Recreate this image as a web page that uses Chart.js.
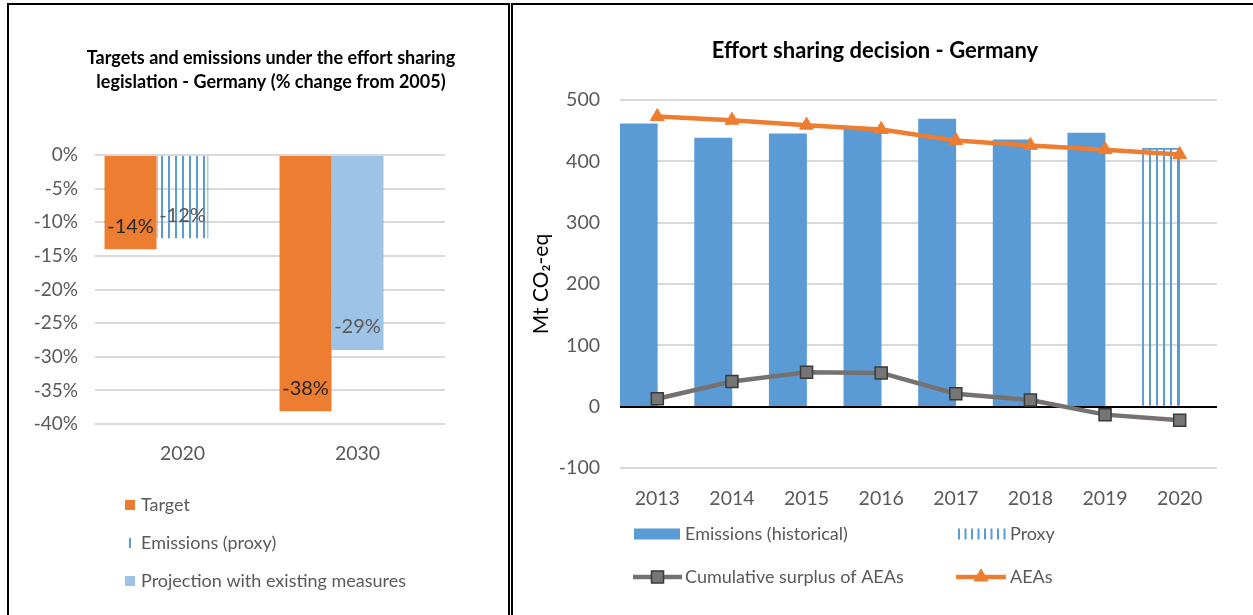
<!DOCTYPE html>
<html><head><meta charset="utf-8">
<script src="https://cdn.jsdelivr.net/npm/chart.js@4.4.1/dist/chart.umd.min.js"></script>
<style>
html,body{margin:0;padding:0;background:#fff;width:1253px;height:615px;overflow:hidden;}
.panel{position:absolute;border:2px solid #000;box-sizing:border-box;}
#p1{left:7px;top:3px;width:503px;height:700px;}
#p2{left:511px;top:3px;width:800px;height:700px;}
#c1{position:absolute;left:0;top:0;}
#c2{position:absolute;left:512px;top:0;}
</style></head>
<body>
<div class="panel" id="p1"></div><div class="panel" id="p2"></div>
<canvas id="c1" width="510" height="615"></canvas>
<canvas id="c2" width="741" height="615"></canvas>
<script>
// ---------- data: left chart ----------
const leftCategories = ['2020', '2030'];
const leftTarget = [-14, -38.1];
const leftEmissionsProxy = [-12.4, null];
const leftProjection = [null, -29];
const leftYTicks = [0, -5, -10, -15, -20, -25, -30, -35, -40];
const leftTitle = ['Targets and emissions under the effort sharing', 'legislation - Germany (% change from 2005)'];
const leftLabels = ['Target', 'Emissions (proxy)', 'Projection with existing measures'];

// ---------- data: right chart ----------
const years = ['2013', '2014', '2015', '2016', '2017', '2018', '2019', '2020'];
const emissionsHistorical = [461, 438, 445, 452, 469, 435, 446, null];
const emissionsProxy = [null, null, null, null, null, null, null, 421];
const aeas = [473, 467, 459, 452, 434, 426, 419, 411];
const cumulativeSurplus = [13, 41, 56, 55, 21, 11, -13, -22];
const rightYTicks = [500, 400, 300, 200, 100, 0, -100];
const rightTitle = 'Effort sharing decision - Germany';
const rightLabels = ['Emissions (historical)', 'Proxy', 'Cumulative surplus of AEAs', 'AEAs'];
const rightYTitle = 'Mt CO\u2082-eq';

const FONT = "Lato, 'Liberation Sans', sans-serif";
const ORANGE = '#ed7d31', BLUE = '#5b9bd5', LIGHTBLUE = '#9dc3e6', GREY = '#767171';
const TICK = '#595959';

function stripePattern() {
  const c = document.createElement('canvas'); c.width = 7; c.height = 8;
  const g = c.getContext('2d');
  g.fillStyle = BLUE; g.fillRect(0, 0, 2, 8);
  return g.createPattern(c, 'repeat');
}

const titlePlugin = {
  id: 'ctitle',
  afterDraw(chart, args, o) {
    const ctx = chart.ctx; ctx.save();
    ctx.font = `bold ${o.size}px ${FONT}`; ctx.fillStyle = '#000';
    ctx.textAlign = 'center'; ctx.textBaseline = 'middle';
    o.lines.forEach((t, i) => ctx.fillText(t, o.x, o.y + i * o.lh));
    ctx.restore();
  }
};

const valueLabelPlugin = {
  id: 'vlabels',
  afterDatasetsDraw(chart, args, o) {
    if (!o.enabled) return;
    const ctx = chart.ctx; ctx.save();
    ctx.font = `${o.size}px ${FONT}`; ctx.textAlign = 'center'; ctx.textBaseline = 'middle';
    chart.data.datasets.forEach((ds, di) => {
      if (!ds.labelColor) return;
      const meta = chart.getDatasetMeta(di);
      ds.data.forEach((v, i) => {
        if (v === null) return;
        const el = meta.data[i];
        ctx.fillStyle = ds.labelColor;
        ctx.fillText(Math.round(v) + '%', el.x, el.y - o.offset);
      });
    });
    ctx.restore();
  }
};

const legendPlugin = {
  id: 'clegend',
  afterDraw(chart, args, o) {
    const ctx = chart.ctx; ctx.save();
    o.items.forEach(it => {
      const ds = chart.data.datasets[it.ds];
      if (it.kind === 'box') {
        ctx.fillStyle = ds.backgroundColor;
        ctx.fillRect(it.x0, it.y - it.h / 2, it.x1 - it.x0, it.h);
      } else if (it.kind === 'vline') {
        ctx.fillStyle = BLUE; ctx.fillRect(it.x0, it.y - it.h / 2, 2, it.h);
      } else if (it.kind === 'stripes') {
        ctx.fillStyle = BLUE;
        for (let x = it.x0; x <= it.x1; x += it.step) ctx.fillRect(x, it.y - it.h / 2, 2, it.h);
      } else if (it.kind === 'line') {
        ctx.strokeStyle = ds.borderColor; ctx.lineWidth = ds.borderWidth;
        ctx.beginPath(); ctx.moveTo(it.x0, it.y); ctx.lineTo(it.x1, it.y); ctx.stroke();
        ctx.fillStyle = ds.pointBackgroundColor; ctx.strokeStyle = ds.pointBorderColor; ctx.lineWidth = ds.pointBorderWidth;
        Chart.helpers.drawPoint(ctx, {pointStyle: ds.pointStyle, radius: ds.pointRadius, borderWidth: ds.pointBorderWidth, rotation: 0},
          (it.x0 + it.x1) / 2, it.y);
      }
      ctx.font = `${o.size}px ${FONT}`; ctx.fillStyle = TICK;
      ctx.textAlign = 'left'; ctx.textBaseline = 'middle';
      ctx.fillText(ds.label, it.tx, it.y);
    });
    ctx.restore();
  }
};

// ---------- left chart ----------
new Chart(document.getElementById('c1'), {
  type: 'bar',
  data: {
    labels: leftCategories,
    datasets: [
      {label: leftLabels[0], data: leftTarget, stack: 'a', backgroundColor: ORANGE, labelColor: '#262626'},
      {label: leftLabels[1], data: leftEmissionsProxy, stack: 'b', backgroundColor: stripePattern(),
       borderColor: BLUE, borderWidth: {left: 1, right: 1, top: 0, bottom: 0}, borderSkipped: false, labelColor: TICK},
      {label: leftLabels[2], data: leftProjection, stack: 'b', backgroundColor: LIGHTBLUE, labelColor: TICK},
      {label: '', data: leftCategories.map(() => null), stack: 'c', backgroundColor: 'rgba(0,0,0,0)'}
    ]
  },
  options: {
    responsive: false, animation: false, devicePixelRatio: 1,
    categoryPercentage: 0.891, barPercentage: 1,
    layout: {padding: {top: 155, left: 0, right: 65, bottom: 131}},
    plugins: {
      legend: {display: false}, title: {display: false}, tooltip: {enabled: false},
      ctitle: {lines: leftTitle, x: 271, y: 58, lh: 24, size: 18},
      vlabels: {enabled: true, size: 20, offset: 23},
      clegend: {size: 18, items: [
        {ds: 0, kind: 'box', x0: 125, x1: 135, y: 505, h: 10, tx: 141},
        {ds: 1, kind: 'vline', x0: 129, y: 543, h: 10, tx: 141},
        {ds: 2, kind: 'box', x0: 125, x1: 135, y: 581, h: 10, tx: 141}
      ]}
    },
    scales: {
      x: {stacked: true, grid: {display: false}, border: {display: false},
          ticks: {color: TICK, font: {family: FONT, size: 19.5}, padding: 10},
          afterFit: s => { s.height = 60; }},
      y: {stacked: false, min: -40, max: 0,
          afterBuildTicks: s => { s.ticks = leftYTicks.map(v => ({value: v})); },
          grid: {color: '#d9d9d9', lineWidth: 2, drawTicks: false}, border: {display: false},
          ticks: {color: TICK, font: {family: FONT, size: 19}, padding: 17, callback: v => v + '%'},
          afterFit: s => { s.width = 95; }}
    }
  },
  plugins: [titlePlugin, valueLabelPlugin, legendPlugin]
});

// ---------- right chart ----------
new Chart(document.getElementById('c2'), {
  type: 'bar',
  data: {
    labels: years,
    datasets: [
      {type: 'line', label: rightLabels[3], data: aeas, order: 0, borderColor: ORANGE, borderWidth: 4.5,
       pointStyle: 'triangle', pointRadius: 8, pointBackgroundColor: ORANGE, pointBorderColor: ORANGE, pointBorderWidth: 1, tension: 0},
      {type: 'line', label: rightLabels[2], data: cumulativeSurplus, order: 1, borderColor: GREY, borderWidth: 4.5,
       pointStyle: 'rect', pointRadius: 8.5, pointBackgroundColor: '#767676', pointBorderColor: '#3a3a3a', pointBorderWidth: 1.5, tension: 0},
      {label: rightLabels[0], data: emissionsHistorical, stack: 'a', order: 2, backgroundColor: BLUE},
      {label: rightLabels[1], data: emissionsProxy, stack: 'a', order: 2, backgroundColor: stripePattern(),
       borderColor: BLUE, borderWidth: 1},
      {label: '', data: years.map(() => null), stack: 'b', order: 2, backgroundColor: 'rgba(0,0,0,0)'}
    ]
  },
  options: {
    responsive: false, animation: false, devicePixelRatio: 1,
    categoryPercentage: 1, barPercentage: 1,
    layout: {padding: {top: 100, left: 0, right: 36, bottom: 87}},
    plugins: {
      legend: {display: false}, title: {display: false}, tooltip: {enabled: false},
      ctitle: {lines: [rightTitle], x: 363, y: 51, lh: 24, size: 22},
      vlabels: {enabled: false},
      clegend: {size: 18, items: [
        {ds: 2, kind: 'box', x0: 122, x1: 168, y: 534, h: 11, tx: 173},
        {ds: 3, kind: 'stripes', x0: 446, x1: 492, step: 6.5, y: 534, h: 11, tx: 498},
        {ds: 1, kind: 'line', x0: 121, x1: 170, y: 577, tx: 173},
        {ds: 0, kind: 'line', x0: 444, x1: 494, y: 577, tx: 498}
      ]}
    },
    scales: {
      x: {stacked: true, grid: {display: false}, border: {display: false},
          ticks: {color: TICK, font: {family: FONT, size: 19.5}, padding: 11},
          afterFit: s => { s.height = 60; }},
      y: {stacked: false, min: -100, max: 500,
          afterBuildTicks: s => { s.ticks = rightYTicks.map(v => ({value: v})); },
          grid: {color: c => c.tick && c.tick.value === 0 ? '#000' : '#d9d9d9', lineWidth: 2, drawTicks: false},
          border: {display: false},
          title: {display: true, text: rightYTitle, color: '#000', font: {family: FONT, size: 21}, padding: {top: 17, bottom: 0}},
          ticks: {color: TICK, font: {family: FONT, size: 19.5}, padding: 20},
          afterFit: s => { s.width = 108; }}
    }
  },
  plugins: [titlePlugin, valueLabelPlugin, legendPlugin]
});
</script>
</body></html>
